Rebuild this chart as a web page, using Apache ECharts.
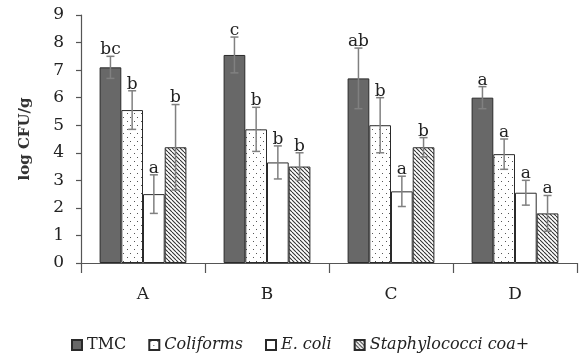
<!DOCTYPE html>
<html>
<head>
<meta charset="utf-8">
<script src="https://cdn.jsdelivr.net/npm/echarts@6/dist/echarts.min.js"></script>
<style>html,body{margin:0;padding:0;background:#fff;}#c{width:587px;height:361px;}</style>
</head>
<body>
<div id="c"></div>
<script>
var categories = ['A', 'B', 'C', 'D'];
var seriesNames = ['TMC', 'Coliforms', 'E. coli', 'Staphylococci coa+'];
var tmc = [7.1, 7.55, 6.7, 6.0];
var tmcErr = [0.4, 0.65, 1.1, 0.4];
var coliforms = [5.55, 4.85, 5.0, 3.95];
var coliformsErr = [0.7, 0.8, 1.0, 0.55];
var ecoli = [2.5, 3.65, 2.6, 2.55];
var ecoliErr = [0.7, 0.6, 0.55, 0.45];
var staph = [4.2, 3.5, 4.2, 1.8];
var staphErr = [1.55, 0.5, 0.35, 0.65];
var tmcLetters = ['bc', 'c', 'ab', 'a'];
var coliformsLetters = ['b', 'b', 'b', 'a'];
var ecoliLetters = ['a', 'b', 'a', 'a'];
var staphLetters = ['b', 'b', 'b', 'a'];
var yTicks = [0, 1, 2, 3, 4, 5, 6, 7, 8, 9];

var values = [tmc, coliforms, ecoli, staph];
var errs = [tmcErr, coliformsErr, ecoliErr, staphErr];
var letters = [tmcLetters, coliformsLetters, ecoliLetters, staphLetters];

function dotPattern() {
  var c = document.createElement('canvas');
  c.width = 7; c.height = 8;
  var g = c.getContext('2d');
  g.fillStyle = '#fff'; g.fillRect(0, 0, 7, 8);
  g.fillStyle = '#555';
  g.fillRect(1, 1, 1, 1);
  g.fillRect(4, 5, 1, 1);
  return c;
}
function hatchPattern() {
  var s = 4;
  var c = document.createElement('canvas');
  c.width = s; c.height = s;
  var g = c.getContext('2d');
  g.fillStyle = '#fff'; g.fillRect(0, 0, s, s);
  g.strokeStyle = '#333'; g.lineWidth = 1.1;
  for (var k = -1; k <= 1; k++) {
    g.beginPath(); g.moveTo(k * s, 0); g.lineTo(k * s + s, s); g.stroke();
  }
  return c;
}

var fills = ['#686868', {image: dotPattern(), repeat: 'repeat'}, '#ffffff', {image: hatchPattern(), repeat: 'repeat'}];
var FONT = 'DejaVu Serif';

var series = [];
seriesNames.forEach(function (name, si) {
  series.push({
    name: name,
    type: 'bar',
    data: values[si],
    barGap: '0%',
    barCategoryGap: '30%',
    itemStyle: {color: fills[si], borderColor: '#2a2a2a', borderWidth: 1},
    z: 2
  });
});
seriesNames.forEach(function (name, si) {
  series.push({
    type: 'custom',
    name: name + '_err',
    z: 5,
    data: categories.map(function (c, i) { return [i, values[si][i], errs[si][i]]; }),
    renderItem: function (params, api) {
      var i = api.value(0), m = api.value(1), e = api.value(2);
      var catW = api.size([1, 0])[0];
      var bw = catW * 0.7 / 4;
      var off = (si - 1.5) * bw;
      var top = api.coord([i, m + e]);
      var bot = api.coord([i, m - e]);
      var x = top[0] + off;
      var cap = 4;
      var st = {stroke: '#808080', lineWidth: 1.5};
      return {
        type: 'group',
        children: [
          {type: 'line', shape: {x1: x, y1: top[1], x2: x, y2: bot[1]}, style: st},
          {type: 'line', shape: {x1: x - cap, y1: top[1], x2: x + cap, y2: top[1]}, style: st},
          {type: 'line', shape: {x1: x - cap, y1: bot[1], x2: x + cap, y2: bot[1]}, style: st},
          {type: 'text', x: x, y: top[1] + 2, style: {text: letters[si][params.dataIndex], fill: '#222', font: '17px "' + FONT + '"', align: 'center', verticalAlign: 'bottom'}}
        ]
      };
    }
  });
});

var chart = echarts.init(document.getElementById('c'));
chart.setOption({
  animation: false,
  backgroundColor: '#fff',
  grid: {left: 81, right: 10, top: 15, bottom: 98},
  legend: {
    data: seriesNames,
    left: 66,
    top: 332,
    itemWidth: 10,
    itemHeight: 10,
    itemGap: 22,
    icon: 'rect',
    textStyle: {fontFamily: FONT, fontSize: 16, color: '#222', rich: {i: {fontStyle: 'italic', fontFamily: FONT, fontSize: 16, color: '#222'}}},
    formatter: function (n) { return n === 'TMC' ? n : '{i|' + n + '}'; }
  },
  xAxis: {
    type: 'category',
    data: categories,
    axisLine: {lineStyle: {color: '#555', width: 1.2}},
    axisTick: {show: true, length: 10, lineStyle: {color: '#555', width: 1.2}},
    axisLabel: {fontFamily: FONT, fontSize: 17, color: '#222', margin: 23}
  },
  yAxis: {
    type: 'value',
    min: yTicks[0],
    max: yTicks[yTicks.length - 1],
    interval: 1,
    name: 'log CFU/g',
    nameLocation: 'middle',
    nameGap: 48,
    nameRotate: 90,
    nameTextStyle: {fontFamily: FONT, fontSize: 15, fontWeight: 'bold', color: '#333'},
    splitLine: {show: false},
    axisLine: {show: true, lineStyle: {color: '#555', width: 1.2}},
    axisTick: {show: true, length: 5, lineStyle: {color: '#555', width: 1.2}},
    axisLabel: {fontFamily: FONT, fontSize: 17, color: '#222', margin: 17}
  },
  series: series
});
</script>
</body>
</html>
